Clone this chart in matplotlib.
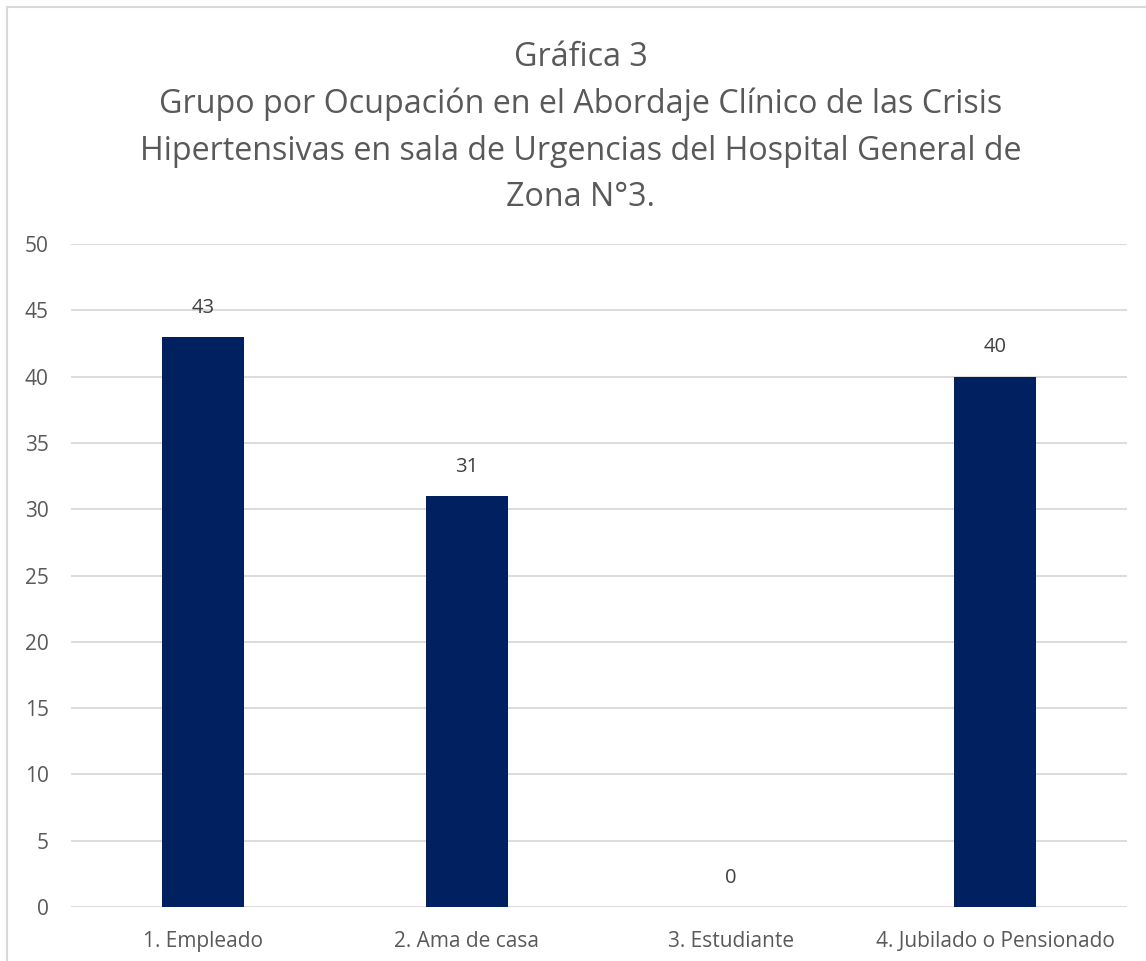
import matplotlib
matplotlib.use("Agg")
import matplotlib.pyplot as plt
from matplotlib.patches import Rectangle

categories = ["1. Empleado", "2. Ama de casa", "3. Estudiante", "4. Jubilado o Pensionado"]
values = [43, 31, 0, 40]
yticks = [0, 5, 10, 15, 20, 25, 30, 35, 40, 45, 50]
title_lines = ["Gráfica 3",
               "Grupo por Ocupación en el Abordaje Clínico de las Crisis",
               "Hipertensivas en sala de Urgencias del Hospital General de",
               "Zona N°3."]

plt.rcParams['font.family'] = ['Open Sans', 'DejaVu Sans']

fig = plt.figure(figsize=(11.46, 9.61), dpi=100)
fig.patches.append(Rectangle((7 / 1146, -0.01), 1.2, 1 - 7 / 961 + 0.01,
                             transform=fig.transFigure, fill=False,
                             edgecolor="#D9D9D9", linewidth=1.5))

ax = fig.add_axes([71 / 1146, 1 - 907 / 961, (1127 - 71) / 1146, (907 - 244) / 961])
x = range(len(categories))
bars = ax.bar(x, values, width=0.31, color="#002060", zorder=3)
for xi, v in zip(x, values):
    ax.annotate(str(v), (xi, v), xytext=(0, 21), textcoords="offset points",
                ha="center", va="center", fontsize=14.5, color="#404040")

ax.set_xlim(-0.5, len(categories) - 0.5)
ax.set_ylim(0, 50)
ax.set_yticks(yticks)
ax.set_xticks(list(x))
ax.set_xticklabels(categories)
ax.tick_params(axis="both", length=0, labelsize=15, colors="#595959")
ax.tick_params(axis="x", pad=17)
ax.tick_params(axis="y", pad=16)
ax.grid(axis="y", color="#D9D9D9", linewidth=1.3, zorder=0)
for s in ax.spines.values():
    s.set_visible(False)

y_title = [58, 104, 151, 198]
for line, yp in zip(title_lines, y_title):
    fig.text(581 / 1146, 1 - yp / 961, line, ha="center", va="center",
             fontsize=23.2, color="#595959")

fig.savefig("out.png", dpi=100)
